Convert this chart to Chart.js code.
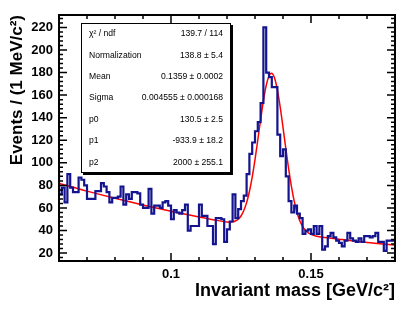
<!DOCTYPE html>
<html>
<head>
<meta charset="utf-8">
<style>
  html, body { margin: 0; padding: 0; background: #fff; }
  #mass { display: block; }
</style>
</head>
<body>
<canvas id="mass" width="415" height="311"></canvas>
<script src="https://cdn.jsdelivr.net/npm/chart.js@4.4.1/dist/chart.umd.min.js"></script>
<script>
/* Data */
var massMin = 0.06;
var massMax = 0.18;
var binWidth = 0.001;

// events per 1 MeV bin
var counts = [
	92, 72, 78, 65, 90, 78, 74, 74, 87, 85,
	80, 68, 68, 68, 75, 75, 82, 79, 74, 65,
	69, 69, 70, 79, 63, 72, 68, 74, 74, 73,
	63, 60, 60, 77, 55, 62, 62, 60, 65, 66,
	62, 50, 58, 56, 55, 58, 63, 40, 44, 44,
	44, 63, 53, 53, 44, 44, 28, 51, 51, 50,
	30, 41, 48, 72, 51, 59, 66, 71, 90, 108,
	118, 128, 136, 153, 220, 180, 176, 167, 167, 125,
	106, 112, 88, 66, 56, 62, 55, 51, 37, 40,
	41, 37, 44, 37, 44, 23, 26, 35, 38, 34,
	31, 29, 26, 31, 38, 33, 31, 30, 33, 30,
	35, 35, 34, 35, 38, 30, 30, 22, 31, 31
];

// fitted curve (gaussian + pol2), sampled
var fitMass = [
	0.06, 0.07, 0.08, 0.09, 0.10, 0.11, 0.115, 0.12, 0.121, 0.122,
	0.123, 0.124, 0.125, 0.126, 0.127, 0.128, 0.129, 0.13, 0.131, 0.132,
	0.133, 0.134, 0.135, 0.1359, 0.137, 0.138, 0.139, 0.14, 0.141, 0.142,
	0.143, 0.144, 0.145, 0.146, 0.147, 0.148, 0.149, 0.15, 0.152, 0.155,
	0.16, 0.17, 0.18
];
var fitValue = [
	81.7, 74.9, 68.6, 62.7, 57.1, 52.0, 49.6, 47.5, 47.4, 47.7,
	48.4, 50.0, 52.9, 57.7, 64.7, 74.6, 87.4, 102.9, 120.3, 138.3,
	155.0, 168.5, 177.0, 179.3, 174.9, 164.5, 149.4, 131.5, 112.7, 94.8,
	79.1, 66.1, 56.0, 48.7, 43.6, 40.2, 38.0, 36.6, 35.0, 33.8,
	32.3, 29.5, 27.2
];

var statNames = ["\u03c7\u00b2 / ndf", "Normalization", "Mean", "Sigma", "p0", "p1", "p2"];
var statValues = [
	"139.7 / 114",
	"138.8 \u00b1 5.4",
	"0.1359 \u00b1 0.0002",
	"0.004555 \u00b1 0.000168",
	"130.5 \u00b1 2.5",
	"-933.9 \u00b1 18.2",
	"2000 \u00b1 255.1"
];

/* histogram outline: one point per lower bin edge + upper edge of last bin */
var histPoints = counts.map(function (c, i) {
	return { x: massMin + i * binWidth, y: c };
});
histPoints.push({ x: massMax, y: counts[counts.length - 1] });

var fitPoints = fitMass.map(function (m, i) {
	return { x: m, y: fitValue[i] };
});

/* frame, inward ticks and the stats box, ROOT style */
var rootFrame = {
	id: "rootFrame",
	afterDraw: function (chart) {
		var ctx = chart.ctx;
		var area = chart.chartArea;
		var xs = chart.scales.x;
		var ys = chart.scales.y;

		ctx.save();
		ctx.strokeStyle = "#000";
		ctx.lineWidth = 1.5;
		ctx.beginPath();
		for (var v = Math.ceil(ys.min / 4) * 4; v <= ys.max; v += 4) {
			var py = ys.getPixelForValue(v);
			var len = v % 20 === 0 ? 8 : 4;
			ctx.moveTo(area.left, py);
			ctx.lineTo(area.left + len, py);
			ctx.moveTo(area.right, py);
			ctx.lineTo(area.right - len, py);
		}
		xs.ticks.forEach(function (t) {
			var px = xs.getPixelForValue(t.value);
			var len = t.label ? 8 : 4;
			ctx.moveTo(px, area.bottom);
			ctx.lineTo(px, area.bottom - len);
			ctx.moveTo(px, area.top);
			ctx.lineTo(px, area.top + len);
		});
		ctx.stroke();

		ctx.lineWidth = 2;
		ctx.strokeRect(area.left, area.top, area.right - area.left, area.bottom - area.top);

		// stats box
		var bx = area.left + 22, by = area.top + 8, bw = 150, bh = 150;
		ctx.fillStyle = "#000";
		ctx.fillRect(bx + 2, by + 2, bw, bh);
		ctx.fillStyle = "#fff";
		ctx.fillRect(bx, by, bw, bh);
		ctx.lineWidth = 1;
		ctx.strokeRect(bx + 0.5, by + 0.5, bw - 1, bh - 1);

		ctx.fillStyle = "#000";
		ctx.font = "8.6px 'Liberation Sans', Arial, sans-serif";
		ctx.textBaseline = "middle";
		var rowH = bh / statNames.length;
		for (var i = 0; i < statNames.length; i++) {
			var ty = by + rowH * (i + 0.5);
			ctx.textAlign = "left";
			ctx.fillText(statNames[i], bx + 8, ty);
			ctx.textAlign = "right";
			ctx.fillText(statValues[i], bx + bw - 8, ty);
		}
		ctx.restore();
	}
};

Chart.defaults.font.family = "'Liberation Sans', Arial, sans-serif";
Chart.defaults.color = "#000";

var ctxMass = document.getElementById("mass");

var massChart = new Chart(ctxMass, {
	type: "line",
	data: {
		datasets: [
			{
				data: histPoints,
				stepped: "after",
				borderColor: "#14148f",
				borderWidth: 2.2,
				pointRadius: 0,
				fill: false,
			},
			{
				data: histPoints,
				stepped: "after",
				borderColor: "#9aa2dc",
				borderWidth: 0.6,
				pointRadius: 0,
				fill: false,
			},
			{
				data: fitPoints,
				borderColor: "#ff0000",
				borderWidth: 1.5,
				pointRadius: 0,
				cubicInterpolationMode: "monotone",
				fill: false,
			},
		],
	},
	options: {
		responsive: false,
		animation: false,
		devicePixelRatio: 1,
		layout: { padding: { top: 15, right: 20, left: 0, bottom: 0 } },
		plugins: {
			legend: { display: false },
			tooltip: { enabled: false },
		},
		scales: {
			x: {
				type: "linear",
				min: massMin,
				max: massMax,
				grid: { display: false, drawTicks: false },
				border: { display: false },
				afterFit: function (s) { s.height = 50; },
				ticks: {
					stepSize: 0.01,
					autoSkip: false,
					maxTicksLimit: 20,
					includeBounds: false,
					maxRotation: 0,
					padding: 6,
					font: { size: 13, weight: "bold" },
					callback: function (value) {
						if (Math.abs(value - 0.1) < 1e-6) return "0.1";
						if (Math.abs(value - 0.15) < 1e-6) return "0.15";
						return "";
					},
				},
				title: {
					display: true,
					text: "Invariant mass [GeV/c\u00b2]",
					align: "end",
					font: { size: 18, weight: "bold" },
					padding: { top: 0, bottom: 9 },
				},
			},
			y: {
				type: "linear",
				min: 13,
				max: 231,
				grid: { display: false, drawTicks: false },
				border: { display: false },
				afterFit: function (s) { s.width = 59; },
				ticks: {
					stepSize: 20,
					includeBounds: false,
					padding: 6,
					font: { size: 13, weight: "bold" },
				},
				title: {
					display: true,
					text: "Events / (1 MeV/c\u00b2)",
					align: "end",
					font: { size: 17, weight: "bold" },
					padding: { top: 7, bottom: 0 },
				},
			},
		},
	},
	plugins: [rootFrame],
});
</script>
</body>
</html>
